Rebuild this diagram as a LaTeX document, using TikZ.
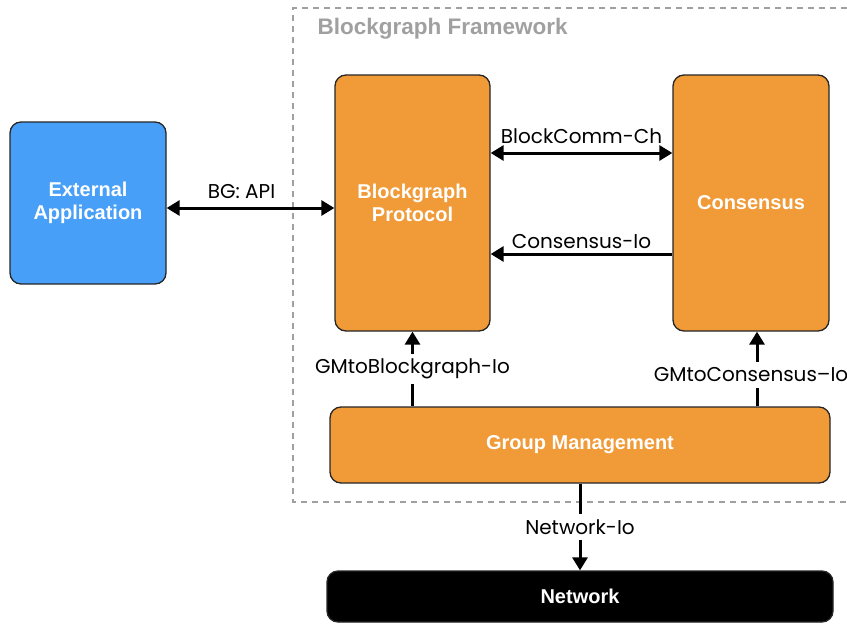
\documentclass[tikz,border=0pt]{standalone}
\usepackage{fontspec}
\setmainfont{Poppins}
\newfontfamily\boxfont{Liberation Sans}
\usetikzlibrary{arrows.meta}
\definecolor{bgblue}{RGB}{72,159,247}
\definecolor{bgorange}{RGB}{240,154,56}
\definecolor{framegray}{RGB}{160,160,160}
\tikzset{
  block/.style={draw=black!85, line width=1.3pt, rounded corners=11pt, text=white,
    font=\boxfont\bfseries\fontsize{20}{23}\selectfont, align=center, inner sep=0pt},
  conn/.style={line width=3pt, {Triangle[length=13pt,width=15pt]}-{Triangle[length=13pt,width=15pt]}},
  conno/.style={line width=3pt, -{Triangle[length=13pt,width=15pt]}},
  lbl/.style={font=\fontsize{20}{23}\selectfont, text=black, inner sep=2pt},
  frame/.style={draw=framegray, line width=2.5pt, dash pattern=on 6pt off 5pt}
}
\begin{document}
\begin{tikzpicture}[x=1pt,y=-1pt]
\useasboundingbox (0,0) rectangle (847,624);
% framework frame
\draw[frame] (847,8) -- (293,8) -- (293,502) -- (847,502);
\node[font=\boxfont\bfseries\fontsize{22.5}{26}\selectfont, text=framegray, anchor=west] (fw) at (314,29) {Blockgraph Framework};
% blocks
\node[block, fill=bgblue, minimum width=156pt, minimum height=162pt] (ext) at (88,203) {External\\Application};
\node[block, fill=bgorange, minimum width=155pt, minimum height=256pt] (bgp) at (412.5,203) {Blockgraph\\Protocol};
\node[block, fill=bgorange, minimum width=156pt, minimum height=256pt] (cons) at (751,203) {Consensus};
\node[block, fill=bgorange, minimum width=500pt, minimum height=76pt] (gm) at (580,445) {Group Management};
\node[block, fill=black, minimum width=506pt, minimum height=51pt] (net) at (580,596.5) {Network};
% connectors
\draw[conn] ([yshift=-5pt]ext.east) -- ([yshift=-5pt]ext.east -| bgp.west)
  node[lbl, midway, above=6pt, xshift=-9pt] (lapi) {BG: API};
\draw[conn] ([yshift=50pt]bgp.east) -- ([yshift=50pt]bgp.east -| cons.west)
  node[lbl, midway, above=6pt] (lbc) {BlockComm-Ch};
\draw[conno] ([yshift=-51pt]cons.west) -- ([yshift=-51pt]cons.west -| bgp.east)
  node[lbl, midway, above=2pt] (lci) {Consensus-Io};
\draw[conno] (gm.north -| bgp.south) -- (bgp.south)
  node[lbl, midway, fill=white, inner ysep=5pt] (lgb) {GMtoBlockgraph-Io};
\draw[conno] ([xshift=6pt]gm.north -| cons.south) -- ([xshift=6pt]cons.south)
  node[lbl, pos=0.42, fill=white, inner ysep=6pt, xshift=-6pt] (lgc) {GMtoConsensus--Io};
\draw[conno] (gm.south) -- (net.north)
  node[lbl, midway, fill=white, inner ysep=6pt] (lni) {Network-Io};
\end{tikzpicture}
\end{document}
